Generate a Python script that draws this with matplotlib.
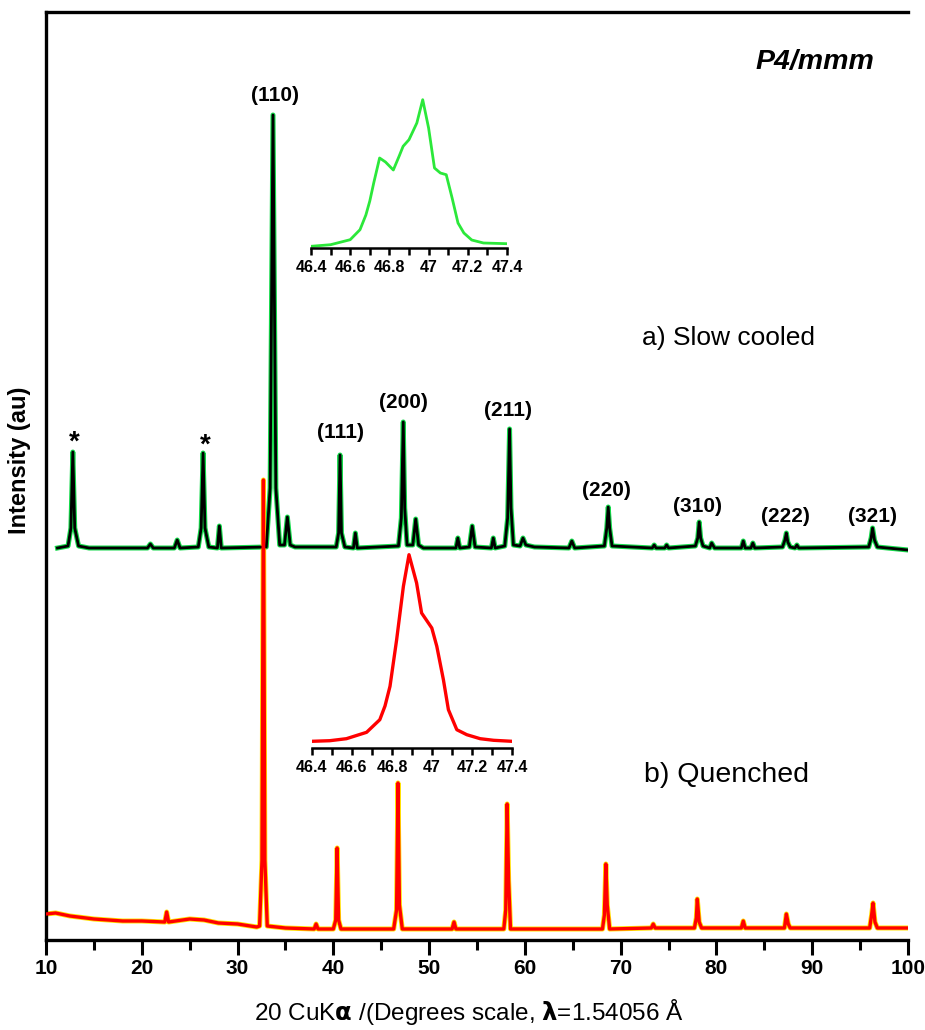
import matplotlib
matplotlib.use('Agg')
import matplotlib.pyplot as plt
from matplotlib.ticker import MultipleLocator

# a) slow cooled: 2theta and intensity above its own baseline
slow_tt = [11.2, 12.3, 12.6, 12.8, 13.0, 13.4, 14.5, 20.6, 20.9, 21.2,
           23.4, 23.7, 24.0, 25.9, 26.2, 26.4, 26.6, 27.0, 27.9, 28.1,
           28.3, 33.0, 33.4, 33.7, 34.0, 34.4, 34.9, 35.2, 35.5, 36.0,
           40.3, 40.55, 40.7, 40.85, 41.2, 42.1, 42.3, 42.5, 46.8, 47.1,
           47.3, 47.45, 47.7, 48.3, 48.6, 48.9, 49.4, 52.8, 53.0, 53.2,
           54.2, 54.5, 54.8, 56.5, 56.7, 56.9, 57.9, 58.2, 58.4, 58.55,
           58.8, 59.5, 59.8, 60.1, 61.0, 64.6, 64.9, 65.2, 68.3, 68.55,
           68.7, 68.85, 69.1, 73.3, 73.5, 73.7, 74.6, 74.8, 75.0, 77.8,
           78.05, 78.2, 78.35, 78.6, 79.3, 79.5, 79.8, 82.6, 82.8, 83.0,
           83.6, 83.8, 84.0, 86.9, 87.15, 87.3, 87.45, 87.7, 88.2, 88.4,
           88.6, 95.9, 96.15, 96.3, 96.5, 96.8, 100.0]
slow_int = [0, 2, 20, 96, 20, 2, 0, 0, 4, 0,
            0, 8, 0, 1, 20, 95, 20, 1, 0, 22,
            0, 1, 60, 433, 60, 3, 3, 31, 3, 1,
            1, 15, 93, 15, 1, 0, 15, 0, 2, 30,
            126, 40, 3, 3, 29, 3, 0, 0, 10, 0,
            1, 22, 1, 0, 10, 0, 2, 30, 119, 40,
            3, 2, 10, 3, 1, 0, 7, 0, 2, 20,
            41, 20, 2, 0, 3, 0, 0, 3, 0, 2,
            10, 26, 10, 2, 0, 5, 0, 0, 7, 0,
            0, 5, 0, 1, 8, 15, 6, 1, 0, 3,
            0, 1, 10, 20, 8, 1, -2]

# b) quenched
quen_tt = [10.0, 11.0, 12.5, 15.0, 18.0, 20.0, 22.4, 22.6, 22.8, 25.0,
           26.5, 28.0, 30.0, 32.0, 32.3, 32.55, 32.7, 32.85, 33.1, 35.0,
           38.0, 38.2, 38.4, 40.0, 40.25, 40.4, 40.55, 40.8, 46.3, 46.6,
           46.75, 46.9, 47.2, 52.4, 52.6, 52.8, 57.8, 58.0, 58.15, 58.3,
           58.5, 68.1, 68.3, 68.45, 68.6, 68.85, 73.2, 73.4, 73.6, 77.7,
           77.9, 78.0, 78.2, 78.45, 82.6, 82.8, 83.0, 87.1, 87.3, 87.5,
           87.7, 96.0, 96.2, 96.35, 96.55, 96.8, 100.2]
quen_int = [26, 27, 24, 21, 19, 19, 18, 28, 18, 21,
            20, 17, 16, 13, 14, 80, 460, 80, 14, 12,
            11, 16, 11, 11, 20, 92, 20, 11, 11, 30,
            157, 35, 11, 11, 18, 11, 11, 30, 136, 60,
            11, 11, 25, 76, 35, 11, 12, 16, 12, 12,
            22, 41, 18, 12, 12, 19, 12, 12, 26, 16,
            12, 12, 25, 37, 18, 12, 12]

# insets: (200) reflection
ins_slow_tt = [46.40, 46.50, 46.60, 46.65, 46.68, 46.70, 46.72, 46.75, 46.78,
               46.82, 46.85, 46.87, 46.90, 46.94, 46.97, 47.00, 47.03, 47.06,
               47.09, 47.12, 47.15, 47.18, 47.22, 47.28, 47.40]
ins_slow_int = [1.7, 3.3, 8.3, 18.3, 33, 47, 65, 90, 86,
                78, 92, 101.7, 108.3, 125, 148.3, 120, 80, 75,
                73.3, 50, 25, 15, 8, 5, 4.3]
ins_quen_tt = [46.40, 46.489, 46.572, 46.673, 46.739, 46.765, 46.790, 46.823,
               46.857, 46.885, 46.923, 46.948, 46.999, 47.024, 47.057, 47.082,
               47.124, 47.174, 47.241, 47.308, 47.40]
ins_quen_int = [6.7, 7.3, 9.3, 15.7, 28.3, 42, 61.7, 108, 161.7,
                193.3, 165, 135, 120, 101.7, 68.3, 38.3, 18.3,
                13.3, 9.3, 7.7, 6.7]

hkl = ['(110)', '(111)', '(200)', '(211)', '(220)', '(310)', '(222)', '(321)']
hkl_tt = [33.9, 40.7, 47.3, 58.2, 68.5, 78.0, 87.2, 96.3]
hkl_y = [845, 508, 538, 530, 449, 434, 423, 423]
star_tt = [13.0, 26.6]
star_y = [497, 494]

narrow = ['Liberation Sans Narrow', 'DejaVu Sans Condensed', 'Liberation Sans']
plt.rcParams['font.family'] = ['Liberation Sans', 'DejaVu Sans']

fig = plt.figure(figsize=(9.25, 10.3), dpi=100)
ax = fig.add_axes([46 / 925, 90 / 1030, 862 / 925, 928 / 1030])

offset = 392
ax.plot(slow_tt, [v + offset for v in slow_int], color='#14d94a', lw=3.6,
        solid_joinstyle='round', zorder=2)
ax.plot(slow_tt, [v + offset for v in slow_int], color='black', lw=2.0,
        solid_joinstyle='round', zorder=3)
ax.plot(quen_tt, quen_int, color='#ffe100', lw=3.6, zorder=2)
ax.plot(quen_tt, quen_int, color='#ff0000', lw=2.4, zorder=3)

ax.set_xlim(10, 100)
ax.set_ylim(0, 928)
ax.set_yticks([])
ax.xaxis.set_major_locator(MultipleLocator(10))
ax.xaxis.set_minor_locator(MultipleLocator(5))
ax.tick_params(axis='x', which='major', direction='out', length=11, width=2.2, pad=3)
ax.tick_params(axis='x', which='minor', direction='out', length=7, width=2.2)
for lab in ax.get_xticklabels():
    lab.set_family(narrow)
    lab.set_fontweight('bold')
    lab.set_fontsize(15)
ax.spines['right'].set_visible(False)
for s in ['left', 'top', 'bottom']:
    ax.spines[s].set_linewidth(2.4)

ax.set_xlabel('20 CuK$\\mathbf{\\alpha}$ /(Degrees scale, $\\mathbf{\\lambda}$=1.54056 Å',
              fontsize=17.5)
ax.xaxis.set_label_coords(0.49, -0.061)
ax.set_ylabel('Intensity (au)', fontsize=17, fontweight='bold')
ax.yaxis.set_label_coords(-0.017, 0.517)

for lab, x, y in zip(hkl, hkl_tt, hkl_y):
    ax.text(x, y, lab, fontsize=15, fontweight='bold', ha='center', va='center')
for x, y in zip(star_tt, star_y):
    ax.text(x, y, '*', fontsize=20, fontweight='bold', ha='center', va='center')
ax.text(90.3, 878, 'P4/mmm', fontsize=20.5, fontweight='bold', style='italic',
        ha='center', va='center')
ax.text(81.3, 602, 'a) Slow cooled', fontsize=19, ha='center', va='center')
ax.text(81.0, 165, 'b) Quenched', fontsize=20.5, ha='center', va='center')

def style_inset(a):
    a.set_xlim(46.4, 47.4)
    a.set_yticks([])
    a.patch.set_alpha(0)
    for s in ['left', 'right', 'top']:
        a.spines[s].set_visible(False)
    a.spines['bottom'].set_linewidth(1.8)
    a.xaxis.set_minor_locator(MultipleLocator(0.1))
    a.tick_params(axis='x', which='both', direction='out', length=5, width=1.8, pad=4)
    a.set_xticks([46.4, 46.6, 46.8, 47.0, 47.2, 47.4])
    a.set_xticklabels(['46.4', '46.6', '46.8', '47', '47.2', '47.4'],
                      family=narrow, fontweight='bold', fontsize=11.5)

ins1 = fig.add_axes([311 / 925, (1030 - 248) / 1030, 196 / 925, 155 / 1030])
ins1.plot(ins_slow_tt, ins_slow_int, color='#2be83a', lw=2.0)
ins1.set_ylim(0, 155)
style_inset(ins1)

ins2 = fig.add_axes([312 / 925, (1030 - 748) / 1030, 200 / 925, 200 / 1030])
ins2.plot(ins_quen_tt, ins_quen_int, color='#ff0000', lw=2.4)
ins2.set_ylim(0, 200)
style_inset(ins2)

fig.savefig('out.png', dpi=100)
